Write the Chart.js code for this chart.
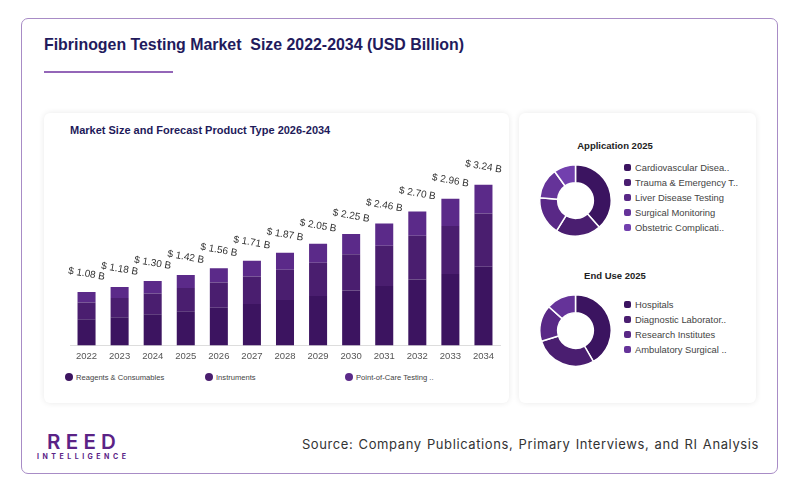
<!DOCTYPE html>
<html>
<head>
<meta charset="utf-8">
<script src="https://cdn.jsdelivr.net/npm/chart.js@4.4.1/dist/chart.umd.min.js"></script>
<style>
  html, body { margin: 0; padding: 0; background: #fff; }
  body { width: 800px; height: 493px; position: relative; overflow: hidden; font-family: "Liberation Sans", Arial, sans-serif; }
  .card { position: absolute; left: 21px; top: 18px; width: 757px; height: 456px; border: 1px solid #a88cc6; border-radius: 7px; box-sizing: border-box; }
  .title { position: absolute; left: 44px; top: 36px; font-size: 15.9px; font-weight: bold; color: #221a5c; white-space: pre; }
  .rule { position: absolute; left: 44px; top: 71px; width: 129px; height: 2px; background: #9466b8; }
  .panel { position: absolute; top: 113px; height: 290px; background: #fff; border-radius: 6px; box-shadow: 0 0 6px rgba(0,0,0,0.09); }
  .sub { position: absolute; left: 70px; top: 124px; font-size: 11px; font-weight: bold; color: #1e1a5a; }
  .leg { position: absolute; font-size: 7.6px; color: #444; white-space: nowrap; }
  .leg i { position: absolute; left: -11px; top: 0px; width: 8px; height: 8px; border-radius: 50%; }
  .dtitle { position: absolute; left: 555px; width: 120px; text-align: center; font-size: 9.5px; font-weight: bold; color: #222; }
  .dleg { position: absolute; left: 635px; font-size: 9.4px; color: #444; white-space: nowrap; }
  .dleg i { position: absolute; left: -11px; top: 2px; width: 7px; height: 7px; border-radius: 2px; }
  .logo { position: absolute; left: 47px; top: 429px; font-family: Inter, sans-serif; font-size: 20.5px; font-weight: 600; letter-spacing: 5.3px; color: #5b2386; }
  .logo2 { position: absolute; left: 37px; top: 452px; font-family: Inter, sans-serif; font-size: 7px; font-weight: 700; letter-spacing: 3.5px; color: #5b2386; }
  .source { position: absolute; right: 41px; top: 436px; font-family: Inter, sans-serif; font-size: 13px; letter-spacing: 0.6px; word-spacing: 1px; color: #333; }
</style>
</head>
<body>
<div class="card"></div>
<div class="title">Fibrinogen Testing Market  Size 2022-2034 (USD Billion)</div>
<div class="rule"></div>

<div class="panel" style="left:44px; width:465px;"></div>
<div class="panel" style="left:519px; width:237px;"></div>

<div class="sub">Market Size and Forecast Product Type 2026-2034</div>
<canvas id="bars" style="position:absolute; left:44px; top:113px;"></canvas>
<div id="barLegend"></div>

<div class="dtitle" style="top:140px;">Application 2025</div>
<canvas id="app" style="position:absolute; left:539px; top:164px;"></canvas>
<div id="appLegend"></div>

<div class="dtitle" style="top:270px;">End Use 2025</div>
<canvas id="enduse" style="position:absolute; left:539px; top:294px;"></canvas>
<div id="endLegend"></div>

<div class="logo">REED</div>
<div class="logo2">INTELLIGENCE</div>
<div class="source">Source: Company Publications, Primary Interviews, and RI Analysis</div>

<script>
const years = ["2022", "2023", "2024", "2025", "2026", "2027", "2028", "2029", "2030", "2031", "2032", "2033", "2034"];
const productTypes = ["Reagents & Consumables", "Instruments", "Point-of-Care Testing .."];
const reagents = [0.53, 0.57, 0.63, 0.69, 0.76, 0.84, 0.92, 1.00, 1.11, 1.20, 1.33, 1.44, 1.59];
const instruments = [0.34, 0.39, 0.42, 0.47, 0.51, 0.55, 0.61, 0.67, 0.73, 0.81, 0.88, 0.97, 1.07];
const pointOfCare = [0.21, 0.22, 0.25, 0.26, 0.29, 0.32, 0.34, 0.38, 0.41, 0.45, 0.49, 0.55, 0.58];
const barColors = ["#3c1460", "#4a1e6f", "#5b2a89"];

const appLabels = ["Cardiovascular Disea..", "Trauma & Emergency T..", "Liver Disease Testing", "Surgical Monitoring", "Obstetric Complicati.."];
const appShares = [38.4, 20.5, 17.3, 13.9, 9.9];
const endLabels = ["Hospitals", "Diagnostic Laborator..", "Research Institutes", "Ambulatory Surgical .."];
const endShares = [41.7, 28.4, 16.5, 13.4];
const donutColors = ["#3b1460", "#4a1e70", "#592886", "#653399", "#7240ae"];

// html legend for the bar chart
const legendX = [76, 216, 356];
productTypes.forEach((name, i) => {
  const d = document.createElement("div");
  d.className = "leg";
  d.style.left = legendX[i] + "px";
  d.style.top = "373px";
  d.innerHTML = '<i style="background:' + barColors[i] + '"></i>' + name;
  document.getElementById("barLegend").append(d);
});

function donutLegend(id, labels, top) {
  labels.forEach((name, i) => {
    const d = document.createElement("div");
    d.className = "dleg";
    d.style.top = (top + i * 15) + "px";
    d.innerHTML = '<i style="background:' + donutColors[i] + '"></i>' + name;
    document.getElementById(id).append(d);
  });
}
donutLegend("appLegend", appLabels, 162);
donutLegend("endLegend", endLabels, 299);

// "$ x.xx B" above each stack
const totalLabels = {
  id: "totalLabels",
  afterDatasetsDraw(chart) {
    const ctx = chart.ctx;
    const meta = chart.getDatasetMeta(chart.data.datasets.length - 1);
    ctx.save();
    ctx.font = "10px 'Liberation Sans', Arial, sans-serif";
    ctx.fillStyle = "#333";
    ctx.textAlign = "center";
    ctx.textBaseline = "middle";
    meta.data.forEach((bar, i) => {
      const total = reagents[i] + instruments[i] + pointOfCare[i];
      ctx.save();
      ctx.translate(bar.x, bar.y - 18);
      ctx.rotate(10 * Math.PI / 180);
      ctx.fillText("$ " + total.toFixed(2) + " B", 0, 0);
      ctx.restore();
    });
    ctx.restore();
  }
};

const barCanvas = document.getElementById("bars");
barCanvas.width = 465;
barCanvas.height = 257;
new Chart(barCanvas, {
  type: "bar",
  data: {
    labels: years,
    datasets: [
      { label: productTypes[0], data: reagents, backgroundColor: barColors[0] },
      { label: productTypes[1], data: instruments, backgroundColor: barColors[1] },
      { label: productTypes[2], data: pointOfCare, backgroundColor: barColors[2] },
    ],
  },
  options: {
    responsive: false,
    animation: false,
    layout: { padding: { left: 26, right: 9, top: 34, bottom: 3 } },
    datasets: { bar: { categoryPercentage: 1, barPercentage: 0.545, borderWidth: 0 } },
    plugins: { legend: { display: false }, tooltip: { enabled: false } },
    scales: {
      x: {
        stacked: true,
        grid: { display: false, drawTicks: false },
        border: { display: true, color: "#ddd" },
        ticks: { color: "#555", font: { size: 9.5, family: "'Liberation Sans', Arial, sans-serif" }, padding: 5 },
      },
      y: { stacked: true, display: false, min: 0, max: 4 },
    },
  },
  plugins: [totalLabels],
});

function makeDonut(id, labels, shares) {
  const c = document.getElementById(id);
  c.width = 73;
  c.height = 73;
  new Chart(c, {
    type: "doughnut",
    data: {
      labels: labels,
      datasets: [{ data: shares, backgroundColor: donutColors.slice(0, shares.length), borderColor: "#fff", borderWidth: 1.5 }],
    },
    options: {
      responsive: false,
      animation: false,
      cutout: "50%",
      plugins: { legend: { display: false }, tooltip: { enabled: false } },
    },
  });
}
makeDonut("app", appLabels, appShares);
makeDonut("enduse", endLabels, endShares);
</script>
</body>
</html>
